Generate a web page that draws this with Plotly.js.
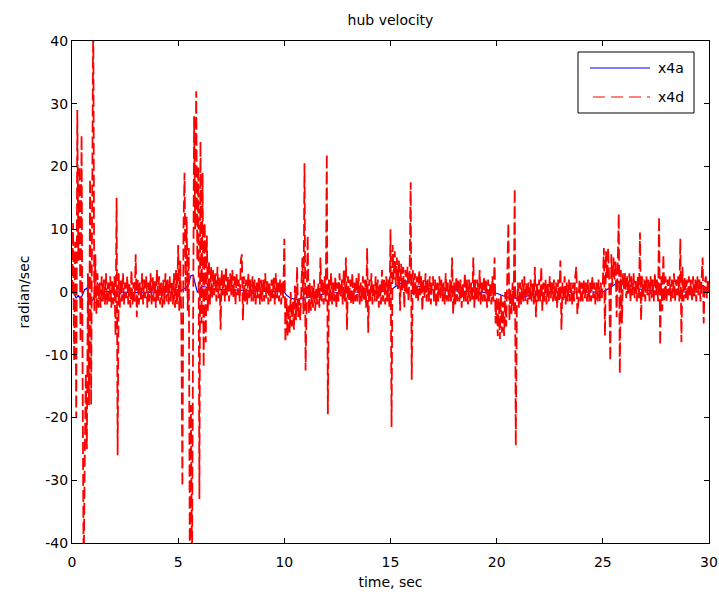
<!DOCTYPE html>
<html>
<head>
<meta charset="utf-8">
<script src="https://cdn.plot.ly/plotly-3.0.1.min.js"></script>
<style>
html,body{margin:0;padding:0;background:#fff;}
#chart{width:719px;height:598px;}
</style>
</head>
<body>
<div id="chart"></div>
<script>
// x4a: smooth hub velocity (time knots, sec / values, radian/sec)
const x4aTime = [0,0.1,0.2,0.3,0.4,0.5,0.6,0.7,0.8,0.9,1.0,1.1,1.3,2,3,4,5,5.2,5.4,5.5,5.6,5.7,5.8,5.9,6.0,6.1,6.3,6.5,7,8,9,10,10.1,10.3,10.6,10.9,11.2,11.6,12,13,14,15,15.2,15.5,15.7,15.9,16.2,16.5,17,17.5,18,19,20,20.3,20.6,21,21.3,21.6,22,22.5,23,24,25,25.2,25.5,25.8,26,26.2,26.5,27,27.5,28,29,30];
const x4aValue = [0,-0.3,-1,-0.5,-1.2,-0.3,0.4,0.6,-0.5,-1.5,-1.2,0,0.1,0,-0.1,0,0,0.3,0.8,1.5,2.6,2.7,1.5,0,0.3,0.9,0.8,0.5,0.4,0.3,0.2,0,-0.5,-1,-1.2,-1,-0.8,-0.5,-0.2,0,0,0.2,0.8,1.4,1.8,1.5,1.0,0.8,0.4,0.3,0.2,0,-0.2,-0.6,-0.9,-1.0,-0.8,-0.5,-0.2,0,0,0,0,0.4,1.0,1.7,1.8,1.2,0.6,0.3,0.1,0,0,0];

// x4d: noisy measured hub velocity, one block per 5 sec, sampled every 0.05 sec
const x4dStep = 0.05;
const x4dBlockStart = [0, 5, 10, 15, 20, 25];
const x4d_00_05 = [0,11,-11,8,-20,29,5,20,-8,25,-14,-45,-27,-13,-25,3,-18,18,-18,17,
45,-3,6,-3.5,3,-2.5,1.5,-2.5,2.5,-1.5,2,-2,3,-2,1.5,-1.5,2.5,-2.5,2,-2,
2.5,-7,15,-26,3,-2.5,2,-1.5,3,-2,1.5,-1,2.5,-2,1.5,-2.5,3.5,-2,1.5,-1.5,
6,-4,2,-2,1.5,-1.5,3,-2,2,-1,2.5,-2.5,1.5,-1.5,3,-2,2.5,-1.5,2,-2.5,
3.5,-1.5,2.5,-2,1.5,-2.5,2,-2,3,-1.5,2,-2,2.5,-1.5,1.5,-2,3,-2.5,3.5,-2];
const x4d_05_10 = [7.5,-3,5,-5,-31,10,19,0,12,-3,7,-45,-18,-45,5,28,10,32,5,20,
-33,24,-5,19,-12,11,-8,9,-3,5,-2,4,-1,3.5,-0.5,3,-1.5,4,-1,2.5,
-6,3.5,-0.5,3,-1.5,4,-0.5,2.5,-1.5,3,-0.5,3.5,-1,2.5,-2,3,-0.5,2,-1.5,5,
6,-4.5,2.5,-1.5,2,-2,3,-1,2,-1.5,2.5,-1.5,2,-2,1.5,-1,2.5,-2,2,-1.5,
2,-1.5,3,-1,2,-2,1.5,-1.5,2,-1,2.5,-2,3,-1,1.5,-1.5,2,-2,1.5,-1];
const x4d_10_15 = [8.5,-8,-1,-7,-2,-6.5,0,-5.5,-1.5,-6,1,-4.5,4,-4,-1,-4.5,0.5,5.5,-3.5,20.5,
-12.5,0.5,9,-3.5,1.5,-3,1,-2.5,2,-3,0.5,-2,1.5,-2.5,5.5,-1.5,2,-2,2.5,-1.5,
22,-19.5,2,-1.5,3,-2,1.5,-1.5,2.5,-2.5,1.5,-1.5,3,-1,2,-2,3.5,-1.5,5.5,-6,
2.5,-1.5,2,-2,3,-2,1.5,-1.5,2.5,-1.5,3,-2,1.5,-1.5,2.5,-1.5,2,-2.5,7,-6.5,
2,-1.5,3,-2,1.5,-1.5,2.5,-1.5,2,-2.5,1.5,-2,3.5,-1.5,2,-2,2.5,-1.5,2,-2.5];
const x4d_15_20 = [10,-21.5,7.5,2,6.5,1,5.5,0.5,5,-3,4.5,0,4,-2.5,3.5,-0.5,4,-1.5,3,17.5,
-14,3.5,-0.5,3,-1,2.5,-1.5,3.5,-0.5,2.5,-3,2,-1,3,-1.5,2,-1.5,2.5,-2,1.5,
2.5,-1.5,2,-2.5,1.5,-1.5,2.5,-1,2,-1.5,1.5,-2,3,-1.5,1.5,-1.5,2,-1.5,5.5,-3.5,
1.5,-2,2.5,-1.5,2,-1.5,2,-2.5,1.5,-1.5,3,-1.5,2,-2,2,-1.5,1.5,-1.5,5.5,-2.5,
2,-1.5,2,-1.5,3.5,-2,1.5,-1.5,2.5,-1.5,2,-2.5,2,-1.5,1.5,-2,2.5,-1.5,5.5,-5];
const x4d_20_25 = [-1,-7,-1,-7.5,-0.5,-6.5,-1.5,-7,0,-5.5,1,11,-4.5,0.5,-3.5,1.5,-3,16.5,-24.5,-2.5,
1.5,-2.5,1.5,-2,2,-1.5,2.5,-1.5,1.5,-2,1.5,-1.5,2,-1.5,1.5,-2,4,-4,1.5,-1.5,
2,-1.5,4,-3,1.5,-1.5,2,-2,1.5,-1.5,2.5,-1,1.5,-1.5,2,-1.5,1.5,-2.5,2,-1.5,
5,-6,1.5,-1.5,2.5,-2,1.5,-1.5,2,-1.5,1.5,-2,1.5,-1.5,2.5,4,-3.5,-1.5,2,-1.5,
1.5,-1.5,2,-1,1.5,-1.5,2,-1.5,1.5,-1.5,2.5,-1,1.5,-2,1.5,-1.5,2,-1.5,1.5,-1];
const x4d_25_30 = [1.5,7,-7,6.5,2,7,1.5,-11,6,1,5.5,2,5,-4,4.5,12.5,-13,3.5,-5,3,
0.5,3,-1,2.5,-0.5,3,-1.5,2.5,-0.5,3,-1,2,-1.5,2.5,-1,9.5,-4.5,2.5,-1,2,
-1.5,2.5,-0.5,2,-1.5,2.5,-1,2,-1.5,3,-0.5,2,-1.5,12,-8.5,2.5,-3,6,-1.5,2.5,
-1.5,2,-0.5,2.5,-1.5,2,-1,3,-1.5,2,-0.5,2.5,-1.5,8.5,-8,4,-1.5,2.5,-1,2,
-1.5,2.5,-0.5,2,-1.5,2.5,-1,2,-1.5,2.5,-0.5,2,-1.5,2.5,5.5,-5,1.5,2.5,-1,2,0];

const xTicks = [0,5,10,15,20,25,30];
const yTicks = [-40,-30,-20,-10,0,10,20,30,40];
const seriesNames = ['x4a', 'x4d'];
const seriesColors = ['#0000ff', '#ff0000'];
const seriesDash = ['solid', '12px,4px'];

const x4dBlocks = [x4d_00_05, x4d_05_10, x4d_10_15, x4d_15_20, x4d_20_25, x4d_25_30];
const x4dTime = [], x4dValue = [];
x4dBlocks.forEach((blk, b) => blk.forEach((v, i) => {
  x4dTime.push(+(x4dBlockStart[b] + i * x4dStep).toFixed(2));
  x4dValue.push(v);
}));

const font = {family: 'DejaVu Sans, sans-serif', size: 14, color: '#000'};

const traces = [
  {x: x4aTime, y: x4aValue, name: seriesNames[0], type: 'scatter', mode: 'lines',
   line: {color: seriesColors[0], width: 1.2, dash: seriesDash[0]}, showlegend: false},
  {x: x4dTime, y: x4dValue, name: seriesNames[1], type: 'scatter', mode: 'lines',
   line: {color: seriesColors[1], width: 1.8, dash: seriesDash[1]}, showlegend: false}
];

const axisCommon = {
  showline: true, linecolor: '#000', linewidth: 1, mirror: 'ticks',
  ticks: 'inside', ticklen: 5, tickcolor: '#000', tickwidth: 1,
  showgrid: false, zeroline: false, tickfont: font
};

// legend box (MATLAB-style), in pixel units converted to paper fractions
const L = 72, R = 709, T = 41, B = 543;
const px = v => (v - L) / (R - L);
const py = v => (B - v) / (B - T);
const legBox = {x0: 578, x1: 694, y0: 52, y1: 113};
const legRows = [68, 97];
const shapes = [{type: 'rect', xref: 'paper', yref: 'paper',
  x0: px(legBox.x0), x1: px(legBox.x1), y0: py(legBox.y1), y1: py(legBox.y0),
  line: {color: '#000', width: 1}, fillcolor: '#fff', layer: 'above'}];
const annotations = [];
seriesNames.forEach((nm, i) => {
  shapes.push({type: 'line', xref: 'paper', yref: 'paper',
    x0: px(i === 0 ? 590 : 593), x1: px(650), y0: py(legRows[i]), y1: py(legRows[i]),
    line: {color: seriesColors[i], width: 1.2, dash: i === 0 ? 'solid' : '12px,6px'}, layer: 'above'});
  annotations.push({xref: 'paper', yref: 'paper', x: px(656), y: py(legRows[i]),
    xanchor: 'left', yanchor: 'middle', text: nm, showarrow: false, font: font});
});

const layout = {
  width: 719, height: 598,
  paper_bgcolor: '#fff', plot_bgcolor: '#fff',
  margin: {l: L, r: 719 - R, t: T, b: 598 - B},
  font: font,
  title: {text: 'hub velocity', font: font, x: 0.5, xref: 'paper', y: 0.966, yanchor: 'middle'},
  xaxis: Object.assign({}, axisCommon, {
    range: [0, 30], tickvals: xTicks, ticktext: xTicks.map(String), ticklabelstandoff: 6,
    title: {text: 'time, sec', font: font, standoff: 8}
  }),
  yaxis: Object.assign({}, axisCommon, {
    range: [-40, 40], tickvals: yTicks, ticktext: yTicks.map(String),
    title: {text: 'radian/sec', font: font, standoff: 12}
  }),
  showlegend: false,
  shapes: shapes,
  annotations: annotations
};

Plotly.newPlot('chart', traces, layout, {staticPlot: true, displayModeBar: false});
</script>
</body>
</html>
